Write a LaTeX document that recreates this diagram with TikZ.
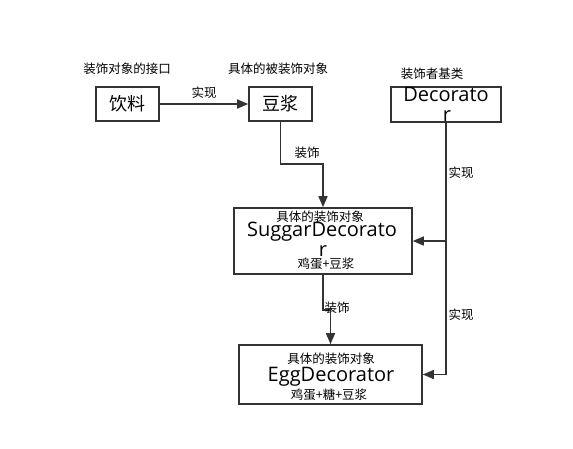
\documentclass[tikz,border=0pt]{standalone}
\usepackage{fontspec}
\setmainfont{Open Sans}
\newfontfamily\cjk{Noto Sans CJK SC}
\usetikzlibrary{arrows.meta, positioning}

\begin{document}
\begin{tikzpicture}[
    x=1pt, y=-1pt,
    tagtext/.style={font=\cjk\fontsize{12.5}{14}\selectfont, inner sep=0pt},
    bigtext/.style={font=\fontsize{20}{22}\selectfont, inner sep=0pt},
    cjkbig/.style={font=\cjk\fontsize{18}{20}\selectfont, inner sep=0pt},
    classbox/.style={draw=black!80, line width=1.6pt, inner sep=0pt},
    arrow/.style={-{Triangle[length=11pt,width=9pt]}, draw=black!80, line width=1.5pt}
]
  \useasboundingbox (0,0) rectangle (573,448);

  % boxes
  \node[classbox, minimum width=63pt, minimum height=34pt] (drink) at (127.5,104) {};
  \node[classbox, minimum width=63pt, minimum height=34pt] (soy) at (280.5,104) {};
  \node[classbox, minimum width=110pt, minimum height=35pt] (dec) at (446,104.5) {};
  \node[classbox, minimum width=178pt, minimum height=66pt] (sugar) at (323,241) {};
  \node[classbox, minimum width=183pt, minimum height=59pt] (egg) at (330.5,374.5) {};

  % box texts
  \node[cjkbig] (drinkname) at (drink.center) {饮料};
  \node[cjkbig] (soyname) at (soy.center) {豆浆};
  \node[bigtext] (decname1) at (446,94) {Decorato};
  \node[bigtext] (decname2) at (447,116) {r};
  \node[tagtext] (sugartag) at (320,217) {具体的装饰对象};
  \node[bigtext] (sugarname1) at (322,232) {SuggarDecorato};
  \node[bigtext] (sugarname2) at (323,251) {r};
  \node[tagtext] (sugarmix) at (326,264) {鸡蛋+豆浆};
  \node[tagtext] (eggtag) at (331,359) {具体的装饰对象};
  \node[bigtext] (eggname) at (331,377) {EggDecorator};
  \node[tagtext] (eggmix) at (329,395) {鸡蛋+糖+豆浆};

  % captions over the boxes
  \node[tagtext] (drinkcap) at (127,69) {装饰对象的接口};
  \node[tagtext] (soycap) at (278,69) {具体的被装饰对象};
  \node[tagtext] (deccap) at (432,74) {装饰者基类};

  % connectors
  \draw[arrow] (drink) -- (soy) node[tagtext, midway, above=5pt] (impl1) {实现};
  \draw[arrow] (soy.south) -- ++(0,42) -| (sugar.north);
  \node[tagtext] (deco1) at (307,153) {装饰};
  \draw[arrow] (sugar.south) -- ++(0,35) -| (egg.north);
  \node[tagtext] (deco2) at (337,308) {装饰};
  \draw[arrow] (dec.south) |- (sugar.east);
  \draw[arrow] (dec.south) |- (egg.east);
  \node[tagtext] (impl2) at (461,173) {实现};
  \node[tagtext] (impl3) at (461,315) {实现};
\end{tikzpicture}
\end{document}
